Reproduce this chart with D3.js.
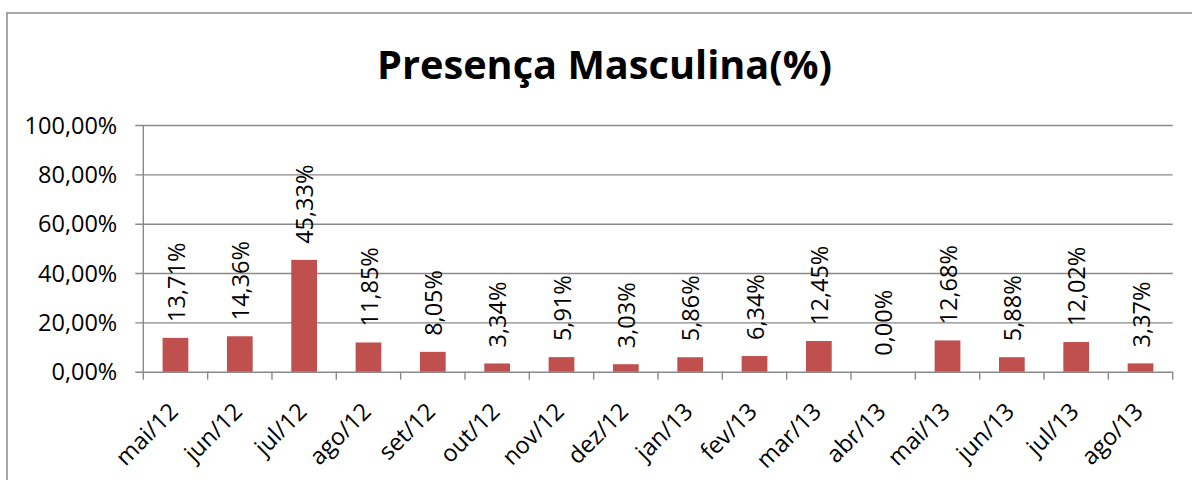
<!DOCTYPE html>
<html>
<head>
<meta charset="utf-8">
<script src="https://cdn.jsdelivr.net/npm/d3@7"></script>
<style>
  html, body { margin: 0; padding: 0; background: #fff; }
  svg { display: block; }
  text { font-family: "Open Sans", "Liberation Sans", sans-serif; fill: #000; }
</style>
</head>
<body>
<svg id="chart" width="1192" height="480"></svg>
<script>
const title = "Presença Masculina(%)";
const categories = ["mai/12","jun/12","jul/12","ago/12","set/12","out/12","nov/12","dez/12",
                    "jan/13","fev/13","mar/13","abr/13","mai/13","jun/13","jul/13","ago/13"];
const values = [13.71, 14.36, 45.33, 11.85, 8.05, 3.34, 5.91, 3.03,
                5.86, 6.34, 12.45, 0.00, 12.68, 5.88, 12.02, 3.37];
const yTicks = [0, 20, 40, 60, 80, 100];

(function () {
const svg = d3.select("#chart");
const plotLeft = 143.3, plotRight = 1172.7, plotTop = 125, plotBottom = 371.7;
const gridColor = "#898989";
const fs = 23.5;

const fmt = v => d3.format(".2f")(v).replace(".", ",") + "%";

// outer frame
svg.append("rect")
  .attr("x", 7).attr("y", 13)
  .attr("width", 1300).attr("height", 600)
  .attr("fill", "none").attr("stroke", gridColor).attr("stroke-width", 1.5);

// title
svg.append("text")
  .attr("x", 604.5).attr("y", 79)
  .attr("text-anchor", "middle")
  .attr("font-size", 40).attr("font-weight", "bold")
  .attr("textLength", 455).attr("lengthAdjust", "spacingAndGlyphs")
  .text(title);

const x = d3.scaleBand().domain(categories).range([plotLeft, plotRight])
  .paddingInner(0.6).paddingOuter(0.3);
const step = x.step();
const y = d3.scaleLinear().domain([0, 100]).range([plotBottom, plotTop]);

// gridlines with left ticks
const yAxis = d3.axisLeft(y).tickValues(yTicks).tickSize(-(plotRight - plotLeft)).tickSizeOuter(0).tickFormat(fmt);
const gy = svg.append("g").attr("transform", `translate(${plotLeft},0)`).call(yAxis);
gy.select(".domain").remove();
gy.selectAll(".tick line")
  .attr("x1", -8)
  .attr("stroke", gridColor).attr("stroke-width", 1.4);
gy.selectAll(".tick text")
  .attr("x", -26).attr("dy", "0.35em")
  .attr("font-size", fs)
  .style("font-family", '"Open Sans", "Liberation Sans", sans-serif')
  .attr("fill", "#000");

// y axis line
svg.append("line")
  .attr("x1", plotLeft).attr("x2", plotLeft).attr("y1", plotTop).attr("y2", plotBottom)
  .attr("stroke", gridColor).attr("stroke-width", 1.4);

// x axis ticks at category boundaries
const boundaries = d3.range(categories.length + 1);
svg.append("g").selectAll("line").data(boundaries).join("line")
  .attr("x1", i => plotLeft + i * step).attr("x2", i => plotLeft + i * step)
  .attr("y1", plotBottom).attr("y2", plotBottom + 8)
  .attr("stroke", gridColor).attr("stroke-width", 1.4);

// bars
svg.append("g").selectAll("rect").data(values).join("rect")
  .attr("x", (d, i) => x(categories[i]))
  .attr("y", d => y(d))
  .attr("width", x.bandwidth())
  .attr("height", d => plotBottom - y(d))
  .attr("fill", "#C0504D");

// data labels
svg.append("g").selectAll("text").data(values).join("text")
  .attr("transform", (d, i) => `translate(${x(categories[i]) + x.bandwidth() / 2 + 1},${y(d) - 16}) rotate(-90)`)
  .attr("dy", "0.35em")
  .attr("text-anchor", "start")
  .attr("font-size", fs)
  .text(d => fmt(d));

// x category labels
svg.append("g").selectAll("text").data(categories).join("text")
  .attr("transform", c => `translate(${x(c) + x.bandwidth() / 2 + 4},413) rotate(-45)`)
  .attr("text-anchor", "end")
  .attr("font-size", fs)
  .text(c => c);
})();
</script>
</body>
</html>
